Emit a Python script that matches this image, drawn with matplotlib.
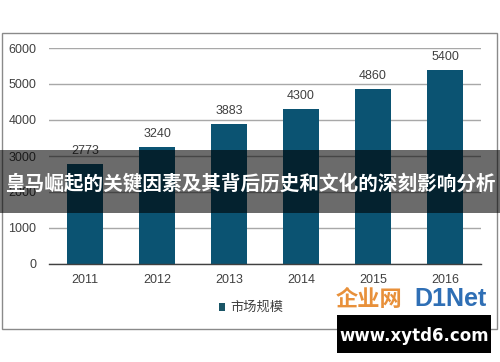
import matplotlib
matplotlib.use("Agg")
import matplotlib.pyplot as plt
from matplotlib.patches import Rectangle

years = ["2011", "2012", "2013", "2014", "2015", "2016"]
values = [2773, 3240, 3883, 4300, 4860, 5400]
yticks = [0, 1000, 2000, 3000, 4000, 5000, 6000]
legend_label = "市场规模"
banner_text = "皇马崛起的关键因素及其背后历史和文化的深刻影响分析"
site_text = "www.xytd6.com"

W, H = 500, 362
fig = plt.figure(figsize=(W / 100, H / 100), dpi=100)
fig.patch.set_facecolor("white")

num_font = ["Liberation Sans", "DejaVu Sans"]
cjk_font = ["Noto Sans CJK SC", "DejaVu Sans"]

# outer border
fig.add_artist(Rectangle((2 / W, 1 - 329 / H), 495 / W, 296 / H, transform=fig.transFigure,
                         fill=False, edgecolor="#8a8a8a", linewidth=1.0))

ax = fig.add_axes([49 / W, 1 - 264 / H, 432 / W, 216 / H])
x = list(range(len(years)))
bar_color = "#0b5372"
ax.bar(x, values, width=0.5, color=bar_color, zorder=3)
ax.set_xlim(-0.5, len(years) - 0.5)
ax.set_ylim(0, 6000)
ax.set_yticks(yticks)
ax.set_yticklabels([str(t) for t in yticks], fontfamily=num_font, fontsize=9, color="#404040")
ax.set_xticks(x)
ax.set_xticklabels(years, fontfamily=num_font, fontsize=9, color="#404040")
ax.tick_params(axis="both", length=0)
ax.tick_params(axis="y", pad=9)
ax.tick_params(axis="x", pad=7)
ax.yaxis.grid(True, color="#a8a8a8", linewidth=1.0, zorder=0)
for s in ["top", "right", "left"]:
    ax.spines[s].set_visible(False)
ax.spines["bottom"].set_color("#404040")
ax.spines["bottom"].set_linewidth(1.0)
ax.spines["bottom"].set_zorder(4)
ax.set_facecolor("none")

for xi, v in zip(x, values):
    ax.annotate(str(v), (xi, v), xytext=(0, 5), textcoords="offset points",
                ha="center", va="bottom", fontfamily=num_font, fontsize=9, color="#404040")

# legend
fig.add_artist(Rectangle((219 / W, 1 - 311 / H), 6 / W, 8 / H, transform=fig.transFigure,
                         facecolor="#1a5566", edgecolor="none"))
fig.text(230 / W, 1 - 307 / H, legend_label, fontfamily=cjk_font, fontsize=9.5,
         color="#404040", ha="left", va="center")

# banner overlay
fig.add_artist(Rectangle((0, 1 - 213 / H), 1, 63 / H, transform=fig.transFigure,
                         facecolor="black", alpha=0.58, edgecolor="none", zorder=10))
fig.text(0.5, 1 - 183 / H, banner_text, fontfamily=cjk_font, fontsize=14.1, fontweight="bold",
         color="white", ha="center", va="center", zorder=11)

# watermark logo and site box
fig.text(336 / W, 1 - 299 / H, "企业网", fontfamily=cjk_font, fontsize=16, fontweight="bold",
         color="#e8903a", ha="left", va="center", zorder=11)
fig.text(414 / W, 1 - 299 / H, "D1Net", fontfamily=num_font, fontsize=18, fontweight="bold",
         color="#2f6fb5", ha="left", va="center", zorder=11)
fig.add_artist(Rectangle((337 / W, 1 - 353 / H), 154 / W, 38 / H, transform=fig.transFigure,
                         facecolor="black", edgecolor="none", zorder=12))
fig.text(414 / W, 1 - 336 / H, site_text, fontfamily=["DejaVu Sans"], fontsize=12, fontweight="bold",
         color="white", ha="center", va="center", zorder=13)

fig.savefig("out.png", dpi=100, facecolor="white")
